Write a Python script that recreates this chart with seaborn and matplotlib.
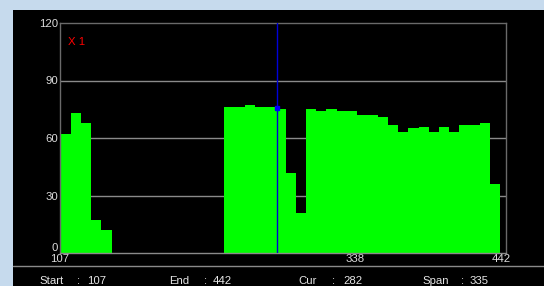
import pandas as pd
import matplotlib
matplotlib.use("Agg")
import matplotlib.pyplot as plt
from matplotlib.patches import Rectangle
import seaborn as sns

# histogram values, one per bin
bins = list(range(43))
counts = [62, 73, 68, 17, 12,
          0, 0, 0, 0, 0, 0, 0, 0, 0, 0, 0,
          76, 76, 77, 76, 76, 75, 42, 21,
          75, 74, 75, 74, 74, 72, 72, 71, 67, 63, 65, 66, 63, 66, 63, 67, 67, 68, 36]

y_ticks = [0, 30, 60, 90, 120]
x_tick_labels = ["107", "338", "442"]
x_tick_pos = [-0.55, 28.3, 42.6]

cursor_pos = 20.7
cursor_val = 75.5

footer = [("Start", "107"), ("End", "442"), ("Cur", "282"), ("Span", "335")]

sns.set_style("dark")
plt.rcParams["font.family"] = ["Liberation Sans", "DejaVu Sans"]
FS = 8.2

W, H = 544, 286
fig = plt.figure(figsize=(W / 100, H / 100), dpi=100, facecolor="#c6daed")

# black panel
fig.patches.append(Rectangle((13 / W, 0), (W - 13) / W, (H - 10) / H,
                             transform=fig.transFigure, facecolor="black",
                             edgecolor="none", zorder=-10))

ax = fig.add_axes([60 / W, (H - 253) / H, (506 - 60) / W, (253 - 23) / H])
ax.set_zorder(1)
ax.set_facecolor("black")

df = pd.DataFrame({"bin": bins, "count": counts})
sns.barplot(data=df, x="bin", y="count", color="#00ff00", saturation=1,
            width=1.0, linewidth=0, edgecolor="none", ax=ax, zorder=2)

ax.set_xlim(-0.5, 43.05)
ax.set_ylim(0, 120)
ax.set_yticks(y_ticks)
ax.set_yticklabels([str(v) for v in y_ticks])
ax.set_xticks(x_tick_pos)
ax.set_xticklabels(x_tick_labels)
ax.set_xlabel("")
ax.set_ylabel("")
ax.tick_params(axis="both", length=0, labelsize=FS, colors="#dcdcdc")
ax.tick_params(axis="y", pad=1.5)
ax.tick_params(axis="x", pad=1.0)
ax.get_yticklabels()[0].set_va("bottom")

ax.grid(False)
for v in y_ticks[1:-1]:
    ax.axhline(v, color="#8a8a8a", lw=1, zorder=1)
for side in ["left", "right", "top", "bottom"]:
    ax.spines[side].set_visible(True)
    ax.spines[side].set_color("#6a6a6a")
    ax.spines[side].set_linewidth(1)
ax.spines["bottom"].set_color("#8a8a8a")

# cursor
ax.axvline(cursor_pos, color="#0000d8", lw=1, zorder=3)
ax.plot([cursor_pos], [cursor_val], marker="s", ms=2.5, color="#0000ff", zorder=4)

ax.text(0.018, 0.917, "X 1", transform=ax.transAxes, color="red",
        fontsize=FS, va="center", ha="left")

# separator line and footer
fig.add_artist(plt.Line2D([13 / W, 1], [(H - 265.7) / H] * 2,
                          transform=fig.transFigure, color="#8a8a8a", lw=1))
label_x = [39, 169, 298, 422]
colon_x = [77, 204, 332, 461]
value_x = [87, 213, 343, 470]
fy = (H - 281.5) / H
for (lab, val), lx, cx, vx in zip(footer, label_x, colon_x, value_x):
    fig.text(lx / W, fy, lab, color="#e6e6e6", fontsize=FS, va="center")
    fig.text(cx / W, fy, ":", color="#e6e6e6", fontsize=FS, va="center")
    fig.text(vx / W, fy, val, color="#e6e6e6", fontsize=FS, va="center")

fig.savefig("out.png", dpi=100, facecolor=fig.get_facecolor())
